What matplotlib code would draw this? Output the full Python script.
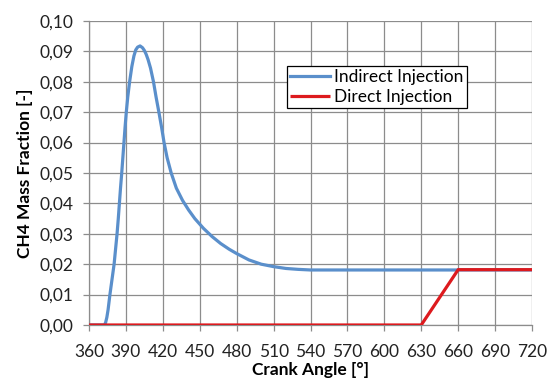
import matplotlib.pyplot as plt
from matplotlib.ticker import FuncFormatter

# crank angle [deg] and CH4 mass fraction for the two injection modes
indirect_angle = [360, 372.5, 373.5, 374.5, 375.5, 377, 378.7, 380.4, 381.6, 382.8,
                  383.8, 384.7, 385.6, 386.6, 387.5, 388.4, 389.3, 390.3, 391.5, 393,
                  394.8, 396.5, 398, 399.5, 401.5, 403.5, 405, 406.5, 408, 410,
                  412.4, 414.5, 416.8, 419, 421, 423.5, 426.8, 431, 436, 441,
                  446, 453, 460, 467, 474, 480, 490, 500, 510, 520,
                  530, 540, 600, 660, 720]
indirect_frac = [0.0, 0.0, 0.0008, 0.0025, 0.005, 0.010, 0.015, 0.020, 0.025, 0.030,
                 0.035, 0.040, 0.045, 0.050, 0.055, 0.060, 0.065, 0.070, 0.075, 0.080,
                 0.085, 0.0885, 0.0905, 0.0914, 0.0918, 0.0912, 0.0903, 0.0890, 0.0873, 0.0845,
                 0.080, 0.075, 0.070, 0.065, 0.060, 0.055, 0.050, 0.045, 0.041, 0.0378,
                 0.0350, 0.0318, 0.0291, 0.0268, 0.0249, 0.0235, 0.0214, 0.0200, 0.0192, 0.0186,
                 0.0183, 0.0181, 0.0181, 0.0181, 0.0181]

direct_angle = [360, 630, 660, 720]
direct_frac = [0.0, 0.0, 0.0182, 0.0182]

x_ticks = list(range(360, 721, 30))
y_ticks = [i / 100 for i in range(0, 11)]

plt.rcParams['font.family'] = ['Lato', 'DejaVu Sans']

fig = plt.figure(figsize=(5.48, 3.78), dpi=100)
ax = fig.add_axes([89 / 548, 1 - 325 / 378, 443 / 548, 304 / 378])

grid_color = '#8c8c8c'
ax.plot(indirect_angle, indirect_frac, color='#5a8fcb', linewidth=2.3,
        label='Indirect Injection', solid_joinstyle='round', zorder=3)
ax.plot(direct_angle, direct_frac, color='#dd1a1e', linewidth=2.3,
        label='Direct Injection', solid_capstyle='butt', zorder=4)

ax.set_xlim(360, 720)
ax.set_ylim(0, 0.10)
ax.set_xticks(x_ticks)
ax.set_yticks(y_ticks)
ax.yaxis.set_major_formatter(FuncFormatter(lambda v, p: f"{v:.2f}".replace('.', ',')))

ax.grid(True, color=grid_color, linewidth=0.9)
ax.set_axisbelow(True)
for side in ['top', 'right']:
    ax.spines[side].set_visible(False)
for side in ['left', 'bottom']:
    ax.spines[side].set_color(grid_color)
    ax.spines[side].set_linewidth(0.9)
ax.tick_params(axis='both', colors=grid_color, length=4, width=0.9,
               labelcolor='#222222', labelsize=12.5)
ax.tick_params(axis='y', pad=7)
ax.tick_params(axis='x', pad=9.5)

ax.set_xlabel('Crank Angle [°]', fontsize=12.5, fontweight='bold', labelpad=1.5)
ax.set_ylabel('CH4 Mass Fraction [-]', fontsize=12.5, fontweight='bold', labelpad=5)

leg = ax.legend(loc='upper left', bbox_to_anchor=(0.447, 0.852),
                fontsize=12.5, frameon=True, fancybox=False, framealpha=1,
                edgecolor='black', handlelength=2.25, handletextpad=0.25,
                borderpad=0.2, labelspacing=0.2, borderaxespad=0)
leg.get_frame().set_linewidth(0.9)

fig.savefig('out.png', dpi=100)
